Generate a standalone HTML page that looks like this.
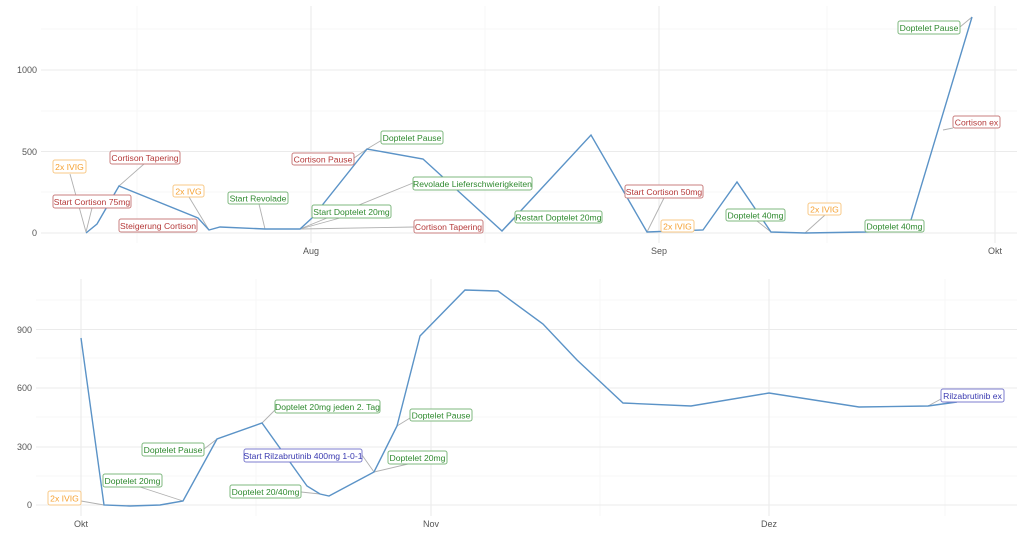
<!DOCTYPE html>
<html><head><meta charset="utf-8"><style>
html,body{margin:0;padding:0;background:#fff;}
svg{display:block;font-family:"Liberation Sans",sans-serif;}
.mj{stroke:#ebebeb;stroke-width:1.1;}
.mn{stroke:#f5f5f5;stroke-width:0.8;}
.ax{fill:#555;font-size:9px;}
.ln{fill:none;stroke:#5b93c7;stroke-width:1.4;}
.sg{stroke:#b0b0b0;stroke-width:0.9;}
.r rect{stroke:#c97f7f;} .r text{fill:#b53a3a;}
.g rect{stroke:#7fb87f;} .g text{fill:#2f8a2f;}
.o rect{stroke:#f8c987;} .o text{fill:#f5a030;}
.b rect{stroke:#7d7dcf;} .b text{fill:#3a3ab0;}
rect{fill:#fff;stroke-width:1;}
.lb text{font-size:8.6px;text-anchor:middle;}
</style></head><body>
<svg width="1024" height="547" viewBox="0 0 1024 547">
<!-- TOP PANEL grid -->
<g>
<line class="mn" x1="41" x2="1017" y1="29" y2="29"/>
<line class="mn" x1="41" x2="1017" y1="111" y2="111"/>
<line class="mn" x1="41" x2="1017" y1="192" y2="192"/>
<line class="mn" x1="137" x2="137" y1="6" y2="243"/>
<line class="mn" x1="485" x2="485" y1="6" y2="243"/>
<line class="mn" x1="827" x2="827" y1="6" y2="243"/>
<line class="mj" x1="41" x2="1017" y1="70" y2="70"/>
<line class="mj" x1="41" x2="1017" y1="151.5" y2="151.5"/>
<line class="mj" x1="41" x2="1017" y1="233" y2="233"/>
<line class="mj" x1="311" x2="311" y1="6" y2="243"/>
<line class="mj" x1="659" x2="659" y1="6" y2="243"/>
<line class="mj" x1="995" x2="995" y1="6" y2="243"/>
<text class="ax" x="37" y="73" text-anchor="end">1000</text>
<text class="ax" x="37" y="155" text-anchor="end">500</text>
<text class="ax" x="37" y="236" text-anchor="end">0</text>
<text class="ax" x="311" y="254" text-anchor="middle">Aug</text>
<text class="ax" x="659" y="254" text-anchor="middle">Sep</text>
<text class="ax" x="995" y="254" text-anchor="middle">Okt</text>
</g>
<!-- top segments -->
<g class="sg">
<line x1="70" y1="174" x2="86" y2="232"/>
<line x1="92" y1="208" x2="86" y2="232"/>
<line x1="144" y1="164" x2="119" y2="186"/>
<line x1="189" y1="197" x2="209" y2="230"/>
<line x1="259" y1="204" x2="265" y2="229"/>
<line x1="354" y1="158" x2="367" y2="149"/>
<line x1="382" y1="140" x2="367" y2="149"/>
<line x1="413" y1="183" x2="300" y2="229"/>
<line x1="340" y1="218" x2="300" y2="229"/>
<line x1="414" y1="227" x2="300" y2="229"/>
<line x1="515" y1="218" x2="502" y2="231"/>
<line x1="664" y1="198" x2="647" y2="232"/>
<line x1="757" y1="221" x2="771" y2="232"/>
<line x1="825" y1="215" x2="805" y2="233"/>
<line x1="960" y1="27" x2="972" y2="17"/>
<line x1="953" y1="128" x2="943" y2="130"/>
</g>
<polyline class="ln" points="86,233 97,224 119,186 198,218 209,230 220,227 265,229 300,229 312,218 367,149 423,159 502,231 515,217 591,135 647,232 703,230 737,182 771,232 805,233 865,232 908,230 972,17"/>
<!-- top labels -->
<g class="lb">
<g class="o"><rect x="53" y="160" width="33" height="13" rx="2"/><text x="69.5" y="170">2x IVIG</text></g>
<g class="r"><rect x="53" y="195" width="78" height="13" rx="2"/><text x="92" y="205">Start Cortison 75mg</text></g>
<g class="r"><rect x="110" y="151" width="70" height="13" rx="2"/><text x="145" y="161">Cortison Tapering</text></g>
<g class="o"><rect x="173" y="185" width="31" height="12" rx="2"/><text x="188.5" y="194.5">2x IVG</text></g>
<g class="r"><rect x="119" y="219" width="78" height="13" rx="2"/><text x="158" y="229">Steigerung Cortison</text></g>
<g class="g"><rect x="228" y="192" width="60" height="12" rx="2"/><text x="258" y="201.5">Start Revolade</text></g>
<g class="r"><rect x="292" y="153" width="62" height="12" rx="2"/><text x="323" y="162.5">Cortison Pause</text></g>
<g class="g"><rect x="381" y="131" width="62" height="13" rx="2"/><text x="412" y="141">Doptelet Pause</text></g>
<g class="g"><rect x="413" y="177" width="119" height="13" rx="2"/><text x="472.5" y="187">Revolade Lieferschwierigkeiten</text></g>
<g class="g"><rect x="312" y="205" width="79" height="13" rx="2"/><text x="351.5" y="215">Start Doptelet 20mg</text></g>
<g class="r"><rect x="414" y="220" width="69" height="13" rx="2"/><text x="448.5" y="230">Cortison Tapering</text></g>
<g class="g"><rect x="515" y="211" width="87" height="12" rx="2"/><text x="558.5" y="220.5">Restart Doptelet 20mg</text></g>
<g class="r"><rect x="625" y="185" width="78" height="13" rx="2"/><text x="664" y="195">Start Cortison 50mg</text></g>
<g class="o"><rect x="661" y="220" width="33" height="12" rx="2"/><text x="677.5" y="229.5">2x IVIG</text></g>
<g class="g"><rect x="726" y="209" width="59" height="12" rx="2"/><text x="755.5" y="218.5">Doptelet 40mg</text></g>
<g class="o"><rect x="808" y="203" width="33" height="12" rx="2"/><text x="824.5" y="212.5">2x IVIG</text></g>
<g class="g"><rect x="865" y="220" width="59" height="12" rx="2"/><text x="894.5" y="229.5">Doptelet 40mg</text></g>
<g class="g"><rect x="898" y="21" width="62" height="13" rx="2"/><text x="929" y="31">Doptelet Pause</text></g>
<g class="r"><rect x="953" y="116" width="47" height="12" rx="2"/><text x="976.5" y="125.5">Cortison ex</text></g>
</g>

<!-- BOTTOM PANEL grid -->
<g>
<line class="mn" x1="36" x2="1017" y1="300" y2="300"/>
<line class="mn" x1="36" x2="1017" y1="358" y2="358"/>
<line class="mn" x1="36" x2="1017" y1="417" y2="417"/>
<line class="mn" x1="36" x2="1017" y1="476" y2="476"/>
<line class="mn" x1="256" x2="256" y1="279" y2="516"/>
<line class="mn" x1="600" x2="600" y1="279" y2="516"/>
<line class="mn" x1="945" x2="945" y1="279" y2="516"/>
<line class="mj" x1="36" x2="1017" y1="329.5" y2="329.5"/>
<line class="mj" x1="36" x2="1017" y1="388" y2="388"/>
<line class="mj" x1="36" x2="1017" y1="447" y2="447"/>
<line class="mj" x1="36" x2="1017" y1="505" y2="505"/>
<line class="mj" x1="81" x2="81" y1="279" y2="516"/>
<line class="mj" x1="431" x2="431" y1="279" y2="516"/>
<line class="mj" x1="769" x2="769" y1="279" y2="516"/>
<text class="ax" x="32" y="333" text-anchor="end">900</text>
<text class="ax" x="32" y="391" text-anchor="end">600</text>
<text class="ax" x="32" y="450" text-anchor="end">300</text>
<text class="ax" x="32" y="508" text-anchor="end">0</text>
<text class="ax" x="81" y="527" text-anchor="middle">Okt</text>
<text class="ax" x="431" y="527" text-anchor="middle">Nov</text>
<text class="ax" x="769" y="527" text-anchor="middle">Dez</text>
</g>
<g class="sg">
<line x1="81" y1="501" x2="104" y2="505"/>
<line x1="140" y1="487" x2="183" y2="501"/>
<line x1="204" y1="449" x2="217" y2="439"/>
<line x1="275" y1="410" x2="262" y2="423"/>
<line x1="362" y1="455" x2="374" y2="472"/>
<line x1="301" y1="492" x2="320" y2="494"/>
<line x1="408" y1="464" x2="374" y2="472"/>
<line x1="410" y1="418" x2="397" y2="426"/>
<line x1="941" y1="399" x2="928" y2="406"/>
</g>
<polyline class="ln" points="81,338 104,505 130,506 160,505 183,501 217,439 262,423 307,486 320,494 329,496 374,472 397,426 420,336 465,290 498,291 543,324 577,360 623,403 691,406 769,393 859,407 928,406 957,402"/>
<g class="lb">
<g class="o"><rect x="48" y="491" width="33" height="14" rx="2"/><text x="64.5" y="501.5">2x IVIG</text></g>
<g class="g"><rect x="103" y="474" width="59" height="13" rx="2"/><text x="132.5" y="484">Doptelet 20mg</text></g>
<g class="g"><rect x="142" y="443" width="62" height="13" rx="2"/><text x="173" y="453">Doptelet Pause</text></g>
<g class="g"><rect x="275" y="400" width="105" height="13" rx="2"/><text x="327.5" y="410">Doptelet 20mg jeden 2. Tag</text></g>
<g class="b"><rect x="244" y="449" width="118" height="13" rx="2"/><text x="303" y="459">Start Rilzabrutinib 400mg 1-0-1</text></g>
<g class="g"><rect x="230" y="485" width="71" height="13" rx="2"/><text x="265.5" y="495">Doptelet 20/40mg</text></g>
<g class="g"><rect x="388" y="451" width="59" height="13" rx="2"/><text x="417.5" y="461">Doptelet 20mg</text></g>
<g class="g"><rect x="410" y="409" width="62" height="12" rx="2"/><text x="441" y="418.5">Doptelet Pause</text></g>
<g class="b"><rect x="941" y="389" width="63" height="13" rx="2"/><text x="972.5" y="399">Rilzabrutinib ex</text></g>
</g>
</svg>
</body></html>
